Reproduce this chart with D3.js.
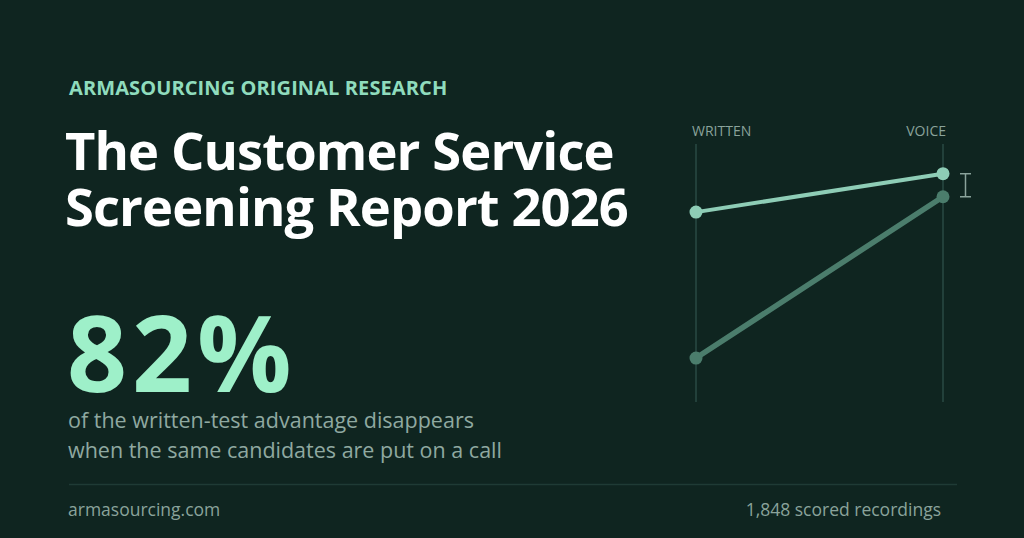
<!DOCTYPE html>
<html><head><meta charset="utf-8">
<script src="https://cdn.jsdelivr.net/npm/d3@7"></script>
<style>
html,body{margin:0;padding:0;background:#0f2520;}
svg{display:block;}
</style></head>
<body>
<script>
// ---- data ----
const categories = ["WRITTEN", "VOICE"];
const seriesNames = ["Top group", "Comparison group"];
const topGroup = [73, 88];
const comparisonGroup = [16, 79];
const headline = "82%";
const kicker = "ARMASOURCING ORIGINAL RESEARCH";
const titleLines = ["The Customer Service", "Screening Report 2026"];
const subLines = ["of the written-test advantage disappears", "when the same candidates are put on a call"];
const footLeft = "armasourcing.com";
const footRight = "1,848 scored recordings";

const W = 1024, H = 538;
const svg = d3.select("body").append("svg").attr("width", W).attr("height", H);
svg.append("rect").attr("width", W).attr("height", H).attr("fill", "#0f2520");

const font = "'Open Sans', 'Noto Sans', sans-serif";

svg.append("text").attr("x", 69).attr("y", 95).text(kicker)
  .attr("font-family", font).attr("font-weight", 700).attr("font-size", 20)
  .attr("letter-spacing", 0.1)
  .attr("fill", "#8fdcbd");

const title = svg.append("text")
  .attr("font-family", font).attr("font-weight", 700).attr("font-size", 52.5)
  .attr("letter-spacing", -0.9)
  .attr("fill", "#ffffff");
title.selectAll("tspan").data(titleLines).join("tspan")
  .attr("x", 65).attr("y", (d, i) => 170 + i * 56).text(d => d);

svg.append("text").attr("x", 67).attr("y", 392).text(headline)
  .attr("font-family", font).attr("font-weight", 700).attr("font-size", 105)
  .attr("letter-spacing", 5)
  .attr("fill", "#9ef0c9");

const sub = svg.append("text")
  .attr("font-family", font).attr("font-size", 21.5)
  .attr("fill", "#8fa9a1");
sub.selectAll("tspan").data(subLines).join("tspan")
  .attr("x", 68).attr("y", (d, i) => 428 + i * 30).text(d => d);

svg.append("line").attr("x1", 69).attr("x2", 957).attr("y1", 484.5).attr("y2", 484.5)
  .attr("stroke", "#1f3b35").attr("stroke-width", 1.5);

svg.append("text").attr("x", 68).attr("y", 516).text(footLeft)
  .attr("font-family", font).attr("font-size", 17.5).attr("fill", "#8aa39b");
svg.append("text").attr("x", 941).attr("y", 516).attr("text-anchor", "end").text(footRight)
  .attr("font-family", font).attr("font-size", 17.5).attr("fill", "#8aa39b");

// ---- slope chart ----
const x = d3.scalePoint().domain(categories).range([696, 943]);
const y = d3.scaleLinear().domain([0, 100]).range([399, 143]);

const g = svg.append("g");
g.selectAll("line.axis").data(categories).join("line").attr("class", "axis")
  .attr("x1", d => x(d)).attr("x2", d => x(d)).attr("y1", 144).attr("y2", 402)
  .attr("stroke", "#22403a").attr("stroke-width", 2);

g.selectAll("text.cat").data(categories).join("text").attr("class", "cat")
  .attr("x", d => x(d)).attr("y", 136)
  .attr("text-anchor", (d, i) => i === 0 ? "start" : "end")
  .attr("dx", (d, i) => i === 0 ? -4 : 3)
  .text(d => d)
  .attr("font-family", font).attr("font-size", 14).attr("fill", "#8aa39b");

const series = [
  {name: seriesNames[1], values: comparisonGroup, color: "#4b7d6c", width: 5.5},
  {name: seriesNames[0], values: topGroup, color: "#8ecdb6", width: 4}
];
const line = d3.line().x((d, i) => x(categories[i])).y(d => y(d));
series.forEach(s => {
  g.append("path").datum(s.values).attr("d", line).attr("fill", "none")
    .attr("stroke", s.color).attr("stroke-width", s.width).attr("stroke-linecap", "round");
  g.selectAll(null).data(s.values).join("circle")
    .attr("cx", (d, i) => x(categories[i])).attr("cy", d => y(d)).attr("r", 6.5)
    .attr("fill", s.color);
});

// remaining gap bracket at VOICE
const ex = x("VOICE") + 22.5;
const e1 = y(topGroup[1]), e2 = y(comparisonGroup[1]);
const eb = g.append("g").attr("stroke", "#8aa39b").attr("stroke-width", 1.5).attr("fill", "none");
eb.append("line").attr("x1", ex).attr("x2", ex).attr("y1", e1).attr("y2", e2);
eb.append("line").attr("x1", ex - 5.5).attr("x2", ex + 5.5).attr("y1", e1).attr("y2", e1);
eb.append("line").attr("x1", ex - 5.5).attr("x2", ex + 5.5).attr("y1", e2).attr("y2", e2);
</script>
</body></html>
